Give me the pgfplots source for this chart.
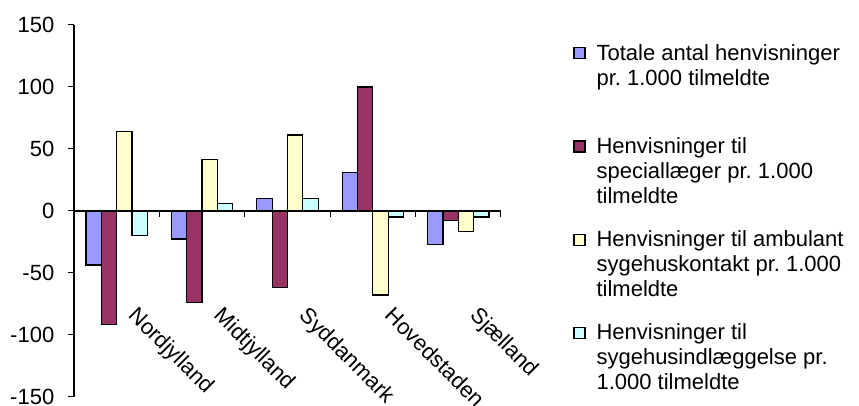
\documentclass[border=0pt]{standalone}
\usepackage{pgfplots}
\pgfplotsset{compat=1.18}
\usepackage{fontspec}
\setmainfont{Liberation Sans}

\definecolor{tot}{HTML}{9999FF}
\definecolor{spec}{HTML}{993366}
\definecolor{amb}{HTML}{FFFFCC}
\definecolor{indl}{HTML}{CCFFFF}

\newcommand{\entry}[1]{\parbox[t]{135pt}{#1}}

\begin{document}
\frenchspacing
\fontsize{11}{12.5}\selectfont
\begin{tikzpicture}
\useasboundingbox (-37pt,-4.5pt) rectangle (392.5pt,198.5pt);
\begin{axis}[
    at={(0,0)}, anchor=south west,
    scale only axis, width=213.5pt, height=186pt,
    xmin=-0.5, xmax=4.5, ymin=-150, ymax=150,
    axis x line=middle, axis y line=left,
    axis line style={-, black, line width=0.6pt},
    hide obscured x ticks=false, hide obscured y ticks=false,
    tick align=outside,
    major tick length=3pt, minor tick length=3pt,
    xtick={0,1,2,3,4},
    xticklabels={Nordjylland,Midtjylland,Syddanmark,Hovedstaden,Sjælland},
    major x tick style={draw=none},
    minor xtick={0.5,1.5,2.5,3.5,4.5},
    minor x tick style={black, line width=0.5pt},
    xticklabel style={xshift=11pt, rotate=-45, anchor=north west, inner sep=0pt},
    xticklabel shift=44pt,
    ytick={-150,-100,-50,0,50,100,150},
    yticklabels={-150,-100,-50,0,50,100,150},
    ytick style={black, line width=0.5pt},
    yticklabel style={xshift=-3pt},
    ybar, bar width=0.18,
    every axis plot/.append style={draw=black, line width=0.6pt},
    legend image code/.code={\draw[#1] (0pt,0.75pt) rectangle (5.5pt,6.25pt);},
    legend style={at={(axis description cs:1.1686,1.0)}, anchor=north west,
        draw=none, fill=none, inner sep=0pt, row sep=11.6pt, column sep=5.5pt,
        nodes={inner sep=0pt, text height=17.5pt, text depth=17.5pt}},
]
\addplot[fill=tot, bar shift=-0.27] coordinates {(0,-43.5) (1,-22.6) (2,10.2) (3,31.2) (4,-27.2)};
\addlegendentry{\entry{Totale antal henvisninger\\pr. 1.000 tilmeldte}}
\addplot[fill=spec, bar shift=-0.09] coordinates {(0,-91.4) (1,-73.7) (2,-61.5) (3,100) (4,-7.5)};
\addlegendentry{\entry{Henvisninger til\\speciallæger pr. 1.000\\tilmeldte}}
\addplot[fill=amb, bar shift=0.09] coordinates {(0,64) (1,41.4) (2,61.3) (3,-67.7) (4,-16.7)};
\addlegendentry{\entry{Henvisninger til ambulant\\sygehuskontakt pr. 1.000\\tilmeldte}}
\addplot[fill=indl, bar shift=0.27] coordinates {(0,-20) (1,5.9) (2,10.2) (3,-4.8) (4,-4.8)};
\addlegendentry{\entry{Henvisninger til\\sygehusindlæggelse pr.\\1.000 tilmeldte}}
\end{axis}
\end{tikzpicture}
\end{document}
